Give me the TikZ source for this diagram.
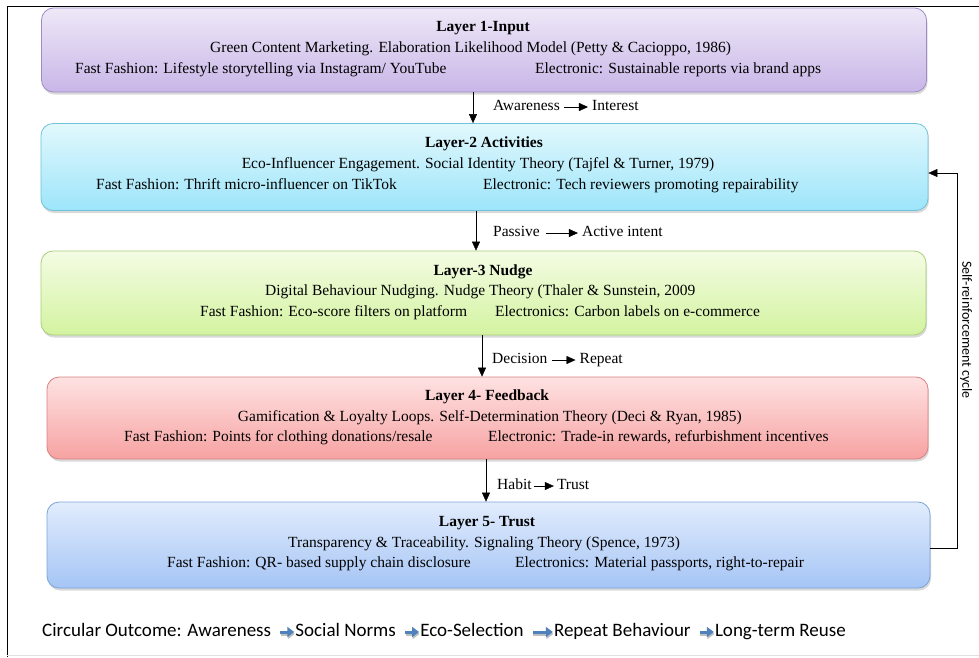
\documentclass[tikz,border=0pt]{standalone}
\usepackage{fontspec}
\setmainfont{Liberation Serif}
\newfontfamily\calfont{Carlito}
\usetikzlibrary{arrows.meta,positioning,shadows}
\definecolor{inTop}{HTML}{EEE8F7}\definecolor{inBot}{HTML}{C8B6E8}\definecolor{inLine}{HTML}{9F8CC6}
\definecolor{acTop}{HTML}{E2F8FD}\definecolor{acBot}{HTML}{9DE5FA}\definecolor{acLine}{HTML}{6FC2D8}
\definecolor{nuTop}{HTML}{F4FCE4}\definecolor{nuBot}{HTML}{D3F3A0}\definecolor{nuLine}{HTML}{A8CF77}
\definecolor{fbTop}{HTML}{FEE2E2}\definecolor{fbBot}{HTML}{F7A2A2}\definecolor{fbLine}{HTML}{D98080}
\definecolor{trTop}{HTML}{E2ECFD}\definecolor{trBot}{HTML}{A5C5F5}\definecolor{trLine}{HTML}{7AA3D6}
\definecolor{outBlue}{HTML}{4F81BD}
\begin{document}
\begin{tikzpicture}[x=1pt,y=-1pt,line cap=butt,line join=miter,>={Triangle[length=9pt,width=8pt]}]
	\tikzset{layer/.style={draw,rounded corners=12pt,line width=0.8pt,inner sep=0pt,
			drop shadow={shadow xshift=1pt,shadow yshift=-2.5pt,opacity=0.3}},
		txt/.style={font=\fontsize{15.5}{18}\selectfont,inner sep=0pt,text height=10.5pt,text depth=3pt},
		ttl/.style={txt,font=\fontsize{15.5}{18}\selectfont\bfseries},
		outc/.style={font=\calfont\fontsize{19}{22}\selectfont,inner sep=0pt,text height=13pt,text depth=4pt},
		lk/.style={->,shorten <=4pt,shorten >=4pt},
		bluearrow/.style={line width=3pt,-{Triangle[length=7pt,width=10pt]},shorten <=9pt,shorten >=1pt}
	}
	\useasboundingbox (0,0) rectangle (979,657);
	\draw (979,6)--(7,6)--(7,657);
	\draw[black!12] (7,655)--(979,655);
	% the five layers
	\node[layer,draw=inLine,top color=inTop,bottom color=inBot,minimum width=885pt,minimum height=84pt] (L1) at (484,50) {};
	\node[layer,draw=acLine,top color=acTop,bottom color=acBot,minimum width=887pt,minimum height=87pt] (L2) at (484.5,167) {};
	\node[layer,draw=nuLine,top color=nuTop,bottom color=nuBot,minimum width=885pt,minimum height=84pt] (L3) at (483.5,293) {};
	\node[layer,draw=fbLine,top color=fbTop,bottom color=fbBot,minimum width=881pt,minimum height=82pt] (L4) at (487.5,418) {};
	\node[layer,draw=trLine,top color=trTop,bottom color=trBot,minimum width=883pt,minimum height=86pt] (L5) at (488.5,545) {};
	\node[ttl] (t1) at (483,28) {Layer 1-Input};
	\node[txt,anchor=west] (d1) at (210,49) {Green Content Marketing. Elaboration Likelihood Model (Petty \& Cacioppo, 1986)};
	\node[txt,anchor=west] (f1) at (75,70) {Fast Fashion: Lifestyle storytelling via Instagram/ YouTube};
	\node[txt,anchor=west] (e1) at (535,70) {Electronic: Sustainable reports via brand apps};
	\node[ttl] (t2) at (484,144) {Layer-2 Activities};
	\node[txt] (d2) at (478,165) {Eco-Influencer Engagement. Social Identity Theory (Tajfel \& Turner, 1979)};
	\node[txt,anchor=west] (f2) at (96,186) {Fast Fashion: Thrift micro-influencer on TikTok};
	\node[txt,anchor=west] (e2) at (483,186) {Electronic: Tech reviewers promoting repairability};
	\node[ttl] (t3) at (483,272) {Layer-3 Nudge};
	\node[txt,anchor=west] (d3) at (265,292) {Digital Behaviour Nudging. Nudge Theory (Thaler \& Sunstein, 2009};
	\node[txt,anchor=west] (f3) at (200,313) {Fast Fashion: Eco-score filters on platform};
	\node[txt,anchor=west] (e3) at (495,313) {Electronics: Carbon labels on e-commerce};
	\node[ttl] (t4) at (487,397) {Layer 4- Feedback};
	\node[txt,anchor=east] (d4) at (742,418) {Gamification \& Loyalty Loops. Self-Determination Theory (Deci \& Ryan, 1985)};
	\node[txt,anchor=west] (f4) at (124,438) {Fast Fashion: Points for clothing donations/resale};
	\node[txt,anchor=west] (e4) at (488,438) {Electronic: Trade-in rewards, refurbishment incentives};
	\node[ttl] (t5) at (487,523) {Layer 5- Trust};
	\node[txt,anchor=west] (d5) at (288,544) {Transparency \& Traceability. Signaling Theory (Spence, 1973)};
	\node[txt,anchor=west] (f5) at (167,564) {Fast Fashion: QR- based supply chain disclosure};
	\node[txt,anchor=west] (e5) at (515,564) {Electronics: Material passports, right-to-repair};
	% links between layers
	\draw[->] (L1.south -| 473,0)--(L2.north -| 473,0);
	\draw[->] (L2.south -| 476,0)--(L3.north -| 476,0);
	\draw[->] (L3.south -| 482,0)--(L4.north -| 482,0);
	\draw[->] (L4.south -| 486,0)--(L5.north -| 486,0);
	\node[txt,anchor=west] (aw) at (493,107) {Awareness};
	\node[txt,right=32pt of aw] (ir) {Interest};
	\draw[lk] (aw)--(ir);
	\node[txt,anchor=west] (pa) at (493,233) {Passive};
	\node[txt,right=42pt of pa] (ai) {Active intent};
	\draw[lk,shorten <=6pt] (pa)--(ai);
	\node[txt,anchor=west] (de) at (492,360) {Decision};
	\node[txt,right=32pt of de] (rp) {Repeat};
	\draw[lk] (de)--(rp);
	\node[txt,anchor=west] (hb) at (497,486) {Habit};
	\node[txt,right=25pt of hb] (tr) {Trust};
	\draw[lk,shorten <=2pt,shorten >=3pt] (hb)--(tr);
	% feedback loop
	\draw[->] ([yshift=-3pt]L5.east)--++(27,0) coordinate (fb) |- ([yshift=-6pt]L2.east);
	\node[font=\calfont\fontsize{14}{16}\selectfont,rotate=-90,inner sep=0pt] (cyc) at (966,330) {Self-reinforcement cycle};
	% outcome line
	\node[outc,anchor=west] (o1) at (42,632) {Circular Outcome: Awareness};
	\node[outc,right=24pt of o1] (o2) {Social Norms};
	\node[outc,right=24pt of o2] (o3) {Eco-Selection};
	\node[outc,right=30pt of o3] (o4) {Repeat Behaviour};
	\node[outc,right=24pt of o4] (o5) {Long-term Reuse};
	\foreach \a/\b in {o1/o2,o2/o3,o3/o4,o4/o5}{
		\draw[bluearrow,black!25,transform canvas={xshift=0.5pt,yshift=-2pt}] (\a)--(\b);
		\draw[bluearrow,outBlue] (\a)--(\b);
	}
\end{tikzpicture}
\end{document}
